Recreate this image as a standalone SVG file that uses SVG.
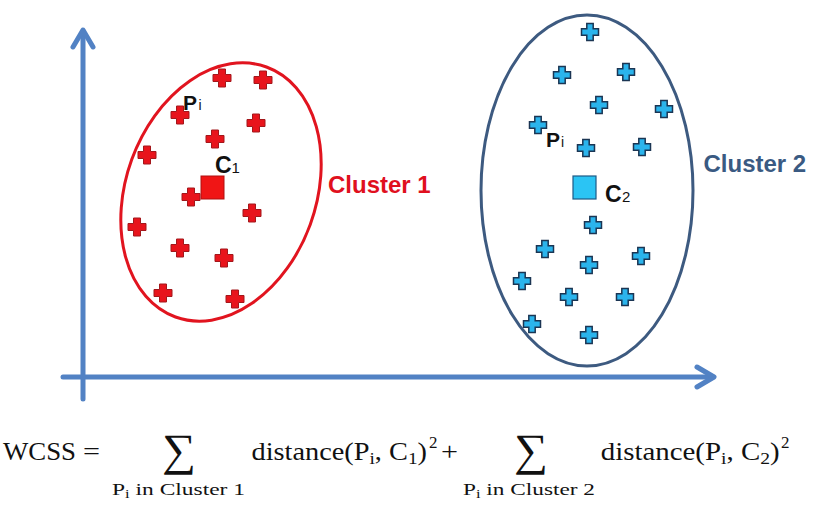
<svg xmlns="http://www.w3.org/2000/svg" xmlns:xlink="http://www.w3.org/1999/xlink" width="834" height="509" viewBox="0 0 834 509">
<style>
.axis{fill:none;stroke:#5282C4;stroke-width:5;stroke-linecap:round;stroke-linejoin:round}
.lbl{font-family:"Liberation Sans",Arial,sans-serif;fill:#111}
.big{font-weight:bold}
.m{font-family:"Liberation Serif","Times New Roman",serif;fill:#111;font-size:25px}
.ms{font-family:"Liberation Serif","Times New Roman",serif;fill:#111;font-size:17px}
.sig{font-family:"Liberation Serif","Times New Roman",serif;fill:#111;font-size:45px}
</style>
<defs>
<path id="plusR" d="M-3.5,-9h7v5.5h5.5v7h-5.5v5.5h-7v-5.5h-5.5v-7h5.5z" fill="#E8141C" stroke="#A3171B" stroke-width="1"/>
<path id="plusB" d="M-3.2,-8.5h6.4v5.3h5.3v6.4h-5.3v5.3h-6.4v-5.3h-5.3v-6.4h5.3z" fill="#2BB4EC" stroke="#1B3553" stroke-width="1.5"/>
</defs>
<rect width="834" height="509" fill="#fff"/>
<g id="connectors">
<g id="y-axis"><line class="axis" x1="83" y1="31" x2="83" y2="399"/><polyline class="axis" points="73,47 83,30 93,47"/></g>
<g id="x-axis"><line class="axis" x1="63" y1="377" x2="713" y2="377"/><polyline class="axis" points="697,367 714,377 697,387"/></g>
</g>
<g id="cluster1">
<ellipse cx="221" cy="192" rx="95" ry="133" transform="rotate(20 221 192)" fill="none" stroke="#E1141F" stroke-width="3"/>
<use xlink:href="#plusR" x="222" y="78"/>
<use xlink:href="#plusR" x="263" y="80"/>
<use xlink:href="#plusR" x="180" y="115"/>
<use xlink:href="#plusR" x="256" y="123"/>
<use xlink:href="#plusR" x="215" y="139"/>
<use xlink:href="#plusR" x="147" y="155"/>
<use xlink:href="#plusR" x="191" y="197"/>
<use xlink:href="#plusR" x="252" y="213"/>
<use xlink:href="#plusR" x="137" y="227"/>
<use xlink:href="#plusR" x="180" y="248"/>
<use xlink:href="#plusR" x="224" y="258"/>
<use xlink:href="#plusR" x="163" y="293"/>
<use xlink:href="#plusR" x="235" y="299"/>
<rect x="201" y="176" width="23" height="23" fill="#F01515" stroke="#B01010" stroke-width="1"/>
<text class="lbl big" x="183" y="110" font-size="21">P</text>
<text class="lbl" x="198.5" y="110" font-size="14">i</text>
<text class="lbl big" x="215" y="173" font-size="23">C</text>
<text class="lbl" x="231.5" y="173" font-size="15">1</text>
<text class="lbl big" x="328" y="193" font-size="24" style="fill:#E0101E">Cluster 1</text>
</g>
<g id="cluster2">
<ellipse cx="587" cy="190.5" rx="106" ry="175.5" fill="none" stroke="#3D5A80" stroke-width="3"/>
<use xlink:href="#plusB" x="590" y="32"/>
<use xlink:href="#plusB" x="562" y="75"/>
<use xlink:href="#plusB" x="626" y="72"/>
<use xlink:href="#plusB" x="599" y="105"/>
<use xlink:href="#plusB" x="664" y="109"/>
<use xlink:href="#plusB" x="538" y="125"/>
<use xlink:href="#plusB" x="586" y="148"/>
<use xlink:href="#plusB" x="642" y="147"/>
<use xlink:href="#plusB" x="593" y="225"/>
<use xlink:href="#plusB" x="545" y="249"/>
<use xlink:href="#plusB" x="641" y="256"/>
<use xlink:href="#plusB" x="589" y="265"/>
<use xlink:href="#plusB" x="522" y="281"/>
<use xlink:href="#plusB" x="569" y="297"/>
<use xlink:href="#plusB" x="625" y="297"/>
<use xlink:href="#plusB" x="532" y="324"/>
<use xlink:href="#plusB" x="589" y="335"/>
<rect x="573" y="176" width="23" height="23" fill="#2BC4F4" stroke="#1D5A85" stroke-width="1.2"/>
<text class="lbl big" x="546" y="147" font-size="21">P</text>
<text class="lbl" x="561" y="147" font-size="14">i</text>
<text class="lbl big" x="605" y="201.5" font-size="23">C</text>
<text class="lbl" x="622" y="201.5" font-size="15">2</text>
<text class="lbl big" x="703.5" y="172" font-size="24" style="fill:#3A5A82">Cluster 2</text>
</g>
<g id="formula">
<text class="m" x="3" y="460" textLength="73" lengthAdjust="spacingAndGlyphs">WCSS</text>
<text class="m" x="83" y="460" textLength="17" lengthAdjust="spacingAndGlyphs">=</text>
<text class="sig" x="162" y="465" textLength="34" lengthAdjust="spacingAndGlyphs">∑</text>
<text class="ms" x="112" y="495" textLength="133" lengthAdjust="spacingAndGlyphs">P<tspan font-size="12" dy="3">i</tspan><tspan dy="-3"> in Cluster 1</tspan></text>
<text class="m" x="251.5" y="460" textLength="175.5" lengthAdjust="spacingAndGlyphs">distance(P<tspan font-size="17" dy="4">i</tspan><tspan dy="-4">, C</tspan><tspan font-size="17" dy="4">1</tspan><tspan dy="-4">)</tspan></text>
<text class="ms" x="429" y="448">2</text>
<text class="m" x="441" y="460" textLength="17" lengthAdjust="spacingAndGlyphs">+</text>
<text class="sig" x="514" y="465" textLength="34" lengthAdjust="spacingAndGlyphs">∑</text>
<text class="ms" x="463" y="495" textLength="132" lengthAdjust="spacingAndGlyphs">P<tspan font-size="12" dy="3">i</tspan><tspan dy="-3"> in Cluster 2</tspan></text>
<text class="m" x="600.7" y="460" textLength="179" lengthAdjust="spacingAndGlyphs">distance(P<tspan font-size="17" dy="4">i</tspan><tspan dy="-4">, C</tspan><tspan font-size="17" dy="4">2</tspan><tspan dy="-4">)</tspan></text>
<text class="ms" x="781" y="448">2</text>
</g>
</svg>
